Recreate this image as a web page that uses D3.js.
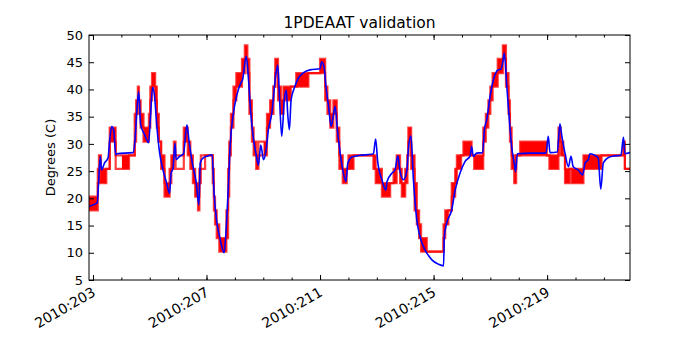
<!DOCTYPE html>
<html>
<head>
<meta charset="utf-8">
<script src="https://cdn.jsdelivr.net/npm/d3@7"></script>
<style>
body { margin: 0; background: #fff; }
svg { font-family: "DejaVu Sans", sans-serif; }
</style>
</head>
<body>
<svg id="chart"></svg>
<script>
// telemetry (red): step segments, start day, low/high level, solid block or not
const redT = [202.86, 203.17, 203.21, 203.28, 203.47, 203.59, 203.80, 204.02, 204.27, 204.47,
  204.52, 204.58, 204.62, 204.68, 204.78, 204.97, 205.02, 205.08, 205.19, 205.25,
  205.32, 205.40, 205.52, 205.70, 205.76, 205.85, 205.91, 206.20, 206.34, 206.43,
  206.52, 206.60, 206.70, 206.75, 206.80, 206.95, 207.22, 207.26, 207.30, 207.36,
  207.45, 207.70, 207.76, 207.80, 207.86, 207.95, 208.05, 208.25, 208.35, 208.44,
  208.51, 208.60, 208.66, 208.75, 208.83, 209.01, 209.13, 209.24, 209.36, 209.42,
  209.52, 209.62, 209.71, 209.97, 210.16, 210.59, 211.00, 211.18, 211.26, 211.36,
  211.47, 211.59, 211.68, 211.80, 211.94, 212.00, 212.18, 212.88, 212.96, 213.18,
  213.47, 213.59, 213.70, 213.82, 213.88, 214.00, 214.08, 214.11, 214.21, 214.33,
  214.41, 214.49, 214.56, 214.76, 215.35, 215.41, 215.52, 215.64, 215.76, 215.82,
  215.97, 216.05, 216.34, 216.43, 216.75, 216.84, 216.93, 217.00, 217.08, 217.26,
  217.44, 217.55, 217.64, 217.69, 217.75, 217.84, 217.91, 218.05, 218.99, 219.08,
  219.40, 219.48, 219.57, 219.63, 219.80, 219.86, 220.28, 220.92, 221.68, 221.74];
const redLo = [17.8, 22.8, 22.8, 22.8, 25.4, 30.4, 25.4, 25.4, 27.9, 30.4,
  35.5, 38.0, 35.5, 33.0, 30.4, 33.0, 38.0, 40.5, 38.0, 33.0,
  30.4, 25.4, 20.3, 22.8, 25.4, 27.9, 25.4, 30.4, 27.9, 25.4,
  22.8, 20.3, 17.8, 22.8, 25.4, 27.9, 22.8, 17.8, 15.2, 12.7,
  10.2, 12.7, 20.3, 27.9, 33.0, 38.0, 40.5, 43.0, 45.6, 43.0,
  35.5, 30.4, 27.9, 25.4, 27.9, 27.9, 33.0, 35.5, 40.5, 43.0,
  38.0, 35.5, 38.0, 40.5, 40.5, 43.0, 43.0, 38.0, 35.5, 33.0,
  35.5, 30.4, 25.4, 22.8, 25.4, 25.4, 27.9, 25.4, 22.8, 20.3,
  22.8, 22.8, 25.4, 22.8, 20.3, 22.8, 27.9, 30.4, 25.4, 17.8,
  15.2, 12.7, 10.2, 10.2, 12.7, 15.2, 17.8, 20.3, 22.8, 25.4,
  27.9, 27.9, 27.9, 25.4, 30.4, 33.0, 35.5, 38.0, 40.5, 43.0,
  45.6, 40.5, 35.5, 30.4, 25.4, 22.8, 27.9, 27.9, 27.9, 25.4,
  30.4, 27.9, 27.9, 22.8, 25.4, 22.8, 25.4, 27.9, 27.9, 25.4];
const redHi = [20.3, 25.4, 27.9, 25.4, 25.4, 33.0, 27.9, 27.9, 27.9, 35.5,
  38.0, 40.5, 38.0, 35.5, 33.0, 35.5, 40.5, 43.0, 40.5, 35.5,
  30.4, 27.9, 22.8, 25.4, 27.9, 30.4, 27.9, 33.0, 30.4, 27.9,
  25.4, 22.8, 20.3, 25.4, 27.9, 27.9, 25.4, 20.3, 17.8, 15.2,
  12.7, 17.8, 25.4, 30.4, 35.5, 40.5, 43.0, 45.6, 48.1, 45.6,
  38.0, 33.0, 30.4, 27.9, 30.4, 30.4, 35.5, 38.0, 40.5, 45.6,
  40.5, 38.0, 40.5, 40.5, 43.0, 43.0, 45.6, 40.5, 38.0, 35.5,
  38.0, 33.0, 27.9, 25.4, 25.4, 27.9, 27.9, 27.9, 25.4, 22.8,
  22.8, 25.4, 27.9, 25.4, 22.8, 25.4, 27.9, 33.0, 27.9, 22.8,
  17.8, 15.2, 12.7, 10.2, 15.2, 17.8, 17.8, 22.8, 25.4, 27.9,
  27.9, 30.4, 27.9, 27.9, 33.0, 35.5, 38.0, 40.5, 43.0, 45.6,
  48.1, 43.0, 38.0, 33.0, 27.9, 25.4, 27.9, 30.4, 27.9, 27.9,
  33.0, 30.4, 27.9, 25.4, 25.4, 25.4, 27.9, 27.9, 30.4, 25.4];
const redSolid = [1, 1, 1, 1, 0, 1, 0, 1, 0, 1,
  1, 1, 1, 1, 1, 1, 1, 1, 1, 1,
  0, 1, 1, 1, 1, 1, 0, 1, 1, 1,
  1, 1, 1, 1, 0, 0, 1, 1, 1, 1,
  1, 1, 1, 1, 1, 1, 1, 1, 1, 1,
  1, 1, 1, 1, 0, 1, 1, 1, 0, 1,
  1, 1, 1, 0, 1, 0, 1, 1, 1, 1,
  1, 1, 1, 1, 0, 1, 0, 1, 1, 1,
  0, 1, 1, 1, 1, 1, 0, 1, 1, 1,
  1, 1, 1, 0, 1, 1, 0, 1, 1, 1,
  0, 1, 0, 1, 1, 1, 1, 1, 1, 1,
  1, 1, 1, 1, 1, 1, 0, 1, 0, 1,
  1, 1, 0, 1, 0, 1, 1, 0, 1, 0];
const redEnd = 221.92;

// model (blue)
const blueT = [202.86, 203.00, 203.15, 203.19, 203.26, 203.30, 203.41, 203.53, 203.59, 203.66,
  203.73, 203.80, 203.84, 204.41, 204.48, 204.55, 204.61, 204.68, 204.82, 204.96,
  205.02, 205.10, 205.17, 205.25, 205.35, 205.44, 205.58, 205.70, 205.75, 205.82,
  205.89, 205.93, 206.05, 206.19, 206.31, 206.38, 206.50, 206.64, 206.73, 206.78,
  206.87, 207.05, 207.20, 207.26, 207.34, 207.46, 207.62, 207.69, 207.78, 207.83,
  207.93, 208.07, 208.21, 208.27, 208.40, 208.48, 208.56, 208.66, 208.75, 208.83,
  208.91, 209.01, 209.10, 209.18, 209.30, 209.42, 209.51, 209.57, 209.65, 209.74,
  209.81, 209.86, 209.92, 209.98, 210.09, 210.24, 210.42, 210.65, 211.00, 211.06,
  211.14, 211.21, 211.30, 211.39, 211.47, 211.53, 211.61, 211.71, 211.80, 211.91,
  211.98, 212.12, 212.41, 212.82, 212.88, 212.96, 213.03, 213.18, 213.32, 213.36,
  213.53, 213.64, 213.74, 213.82, 213.94, 214.06, 214.11, 214.20, 214.29, 214.41,
  214.52, 214.70, 214.82, 214.94, 215.17, 215.35, 215.38, 215.46, 215.64, 215.76,
  215.93, 216.11, 216.29, 216.34, 216.40, 216.52, 216.73, 216.79, 216.87, 216.99,
  217.05, 217.17, 217.28, 217.37, 217.44, 217.49, 217.58, 217.67, 217.75, 217.84,
  217.89, 217.95, 218.40, 218.96, 219.04, 219.10, 219.36, 219.45, 219.52, 219.63,
  219.75, 219.84, 219.92, 220.10, 220.25, 220.34, 220.45, 220.51, 220.69, 220.80,
  220.89, 220.98, 221.16, 221.39, 221.60, 221.69, 221.74, 221.92];
const blueV = [18.5, 18.8, 19.2, 22.2, 27.7, 25.2, 26.5, 27.4, 30.7, 33.2,
  32.6, 28.0, 28.2, 28.4, 30.7, 36.3, 39.6, 33.5, 31.7, 30.2,
  34.4, 40.4, 38.7, 33.2, 28.3, 25.8, 23.1, 20.9, 24.6, 25.5,
  30.1, 27.1, 27.7, 28.2, 33.5, 30.7, 26.5, 22.8, 18.8, 26.5,
  27.4, 27.8, 28.0, 21.5, 16.6, 13.0, 10.0, 14.2, 23.4, 29.5,
  35.0, 39.0, 41.2, 41.8, 46.1, 41.8, 35.6, 30.7, 28.0, 26.1,
  29.8, 27.1, 28.9, 32.6, 35.6, 41.8, 44.5, 38.7, 31.4, 38.1,
  39.9, 35.6, 32.6, 38.1, 40.2, 42.1, 43.1, 43.6, 43.8, 45.1,
  44.2, 40.5, 36.9, 33.2, 35.3, 36.9, 32.6, 28.3, 25.2, 23.1,
  26.5, 27.6, 27.9, 28.1, 28.2, 30.9, 26.8, 23.4, 21.5, 23.1,
  24.6, 25.2, 27.8, 24.9, 23.4, 25.2, 28.9, 31.5, 23.4, 16.0,
  13.0, 10.5, 9.5, 8.7, 7.9, 7.6, 13.0, 15.4, 17.9, 21.5,
  24.6, 26.8, 27.8, 29.5, 27.7, 28.3, 28.4, 32.6, 34.4, 38.7,
  40.5, 42.8, 43.6, 43.7, 45.1, 46.7, 40.5, 34.4, 29.5, 26.5,
  24.9, 28.2, 28.3, 28.3, 31.4, 28.4, 28.5, 33.7, 31.4, 28.3,
  25.8, 27.7, 25.8, 25.2, 24.3, 26.5, 27.1, 28.2, 27.9, 27.4,
  21.7, 26.5, 27.5, 27.8, 27.9, 31.2, 28.2, 28.4];

const xTicks = [203, 207, 211, 215, 219];
const xMinor = d3.range(203, 222);
const yTicks = [5, 10, 15, 20, 25, 30, 35, 40, 45, 50];

const width = 700;
const height = 350;
const margin = { top: 35, right: 70, bottom: 70, left: 89 };
const w = width - margin.left - margin.right;
const h = height - margin.top - margin.bottom;

const svg = d3.select("#chart")
  .attr("width", width)
  .attr("height", height);

const g = svg.append("g")
  .attr("transform", "translate(" + margin.left + "," + margin.top + ")");

const xScale = d3.scaleLinear().domain([202.86, redEnd]).range([0, w]);
const yScale = d3.scaleLinear().domain([5, 50]).range([h, 0]);

g.append("clipPath").attr("id", "clip")
  .append("rect").attr("width", w).attr("height", h);

const plot = g.append("g").attr("clip-path", "url(#clip)");

// red telemetry
const red = redT.map((t, i) => ({ t: t, t1: i < redT.length - 1 ? redT[i + 1] : redEnd, lo: redLo[i], hi: redHi[i], solid: redSolid[i] }));
const redPts = red.concat([{ t: redEnd, lo: redLo[redLo.length - 1], hi: redHi[redHi.length - 1] }]);

plot.append("g")
  .selectAll("rect")
  .data(red.filter(d => d.solid))
  .enter()
  .append("rect")
  .attr("x", d => xScale(d.t))
  .attr("width", d => xScale(d.t1) - xScale(d.t))
  .attr("y", d => yScale(d.hi))
  .attr("height", d => yScale(d.lo) - yScale(d.hi))
  .attr("fill", "#ff0000");

["lo", "hi"].forEach(k => {
  plot.append("path")
    .datum(redPts)
    .attr("fill", "none")
    .attr("stroke", "#ff0000")
    .attr("stroke-opacity", 0.75)
    .attr("stroke-width", 2.2)
    .attr("d", d3.line().curve(d3.curveStepAfter).x(d => xScale(d.t)).y(d => yScale(d[k])));
});

// blue model
plot.append("path")
  .datum(blueT.map((t, i) => [t, blueV[i]]))
  .attr("fill", "none")
  .attr("stroke", "#0000ff")
  .attr("stroke-width", 1.6)
  .attr("d", d3.line().curve(d3.curveMonotoneX).x(d => xScale(d[0])).y(d => yScale(d[1])));

// axes, ticks inside like matplotlib
const bottom = g.append("g")
  .attr("transform", "translate(0," + h + ")")
  .call(d3.axisBottom(xScale).tickValues(xTicks).tickSize(-5).tickPadding(15).tickFormat(d => "2010:" + d));

g.append("g")
  .attr("transform", "translate(0," + h + ")")
  .call(d3.axisBottom(xScale).tickValues(xMinor).tickSize(-2.5).tickFormat(""));
g.append("g")
  .call(d3.axisTop(xScale).tickValues(xTicks).tickSize(-5).tickFormat(""));
g.append("g")
  .call(d3.axisTop(xScale).tickValues(xMinor).tickSize(-2.5).tickFormat(""));
g.append("g")
  .call(d3.axisLeft(yScale).tickValues(yTicks).tickSize(-5).tickPadding(6));
g.append("g")
  .attr("transform", "translate(" + w + ",0)")
  .call(d3.axisRight(yScale).tickValues(yTicks).tickSize(-5).tickFormat(""));

g.selectAll(".domain").remove();
g.selectAll(".tick line").attr("stroke", "#000");
g.selectAll(".tick text").attr("font-size", 13).attr("fill", "#000").attr("font-family", "DejaVu Sans");
bottom.selectAll("text")
  .attr("font-size", 14)
  .attr("text-anchor", "end")
  .attr("dy", 0)
  .attr("transform", "translate(3,0) rotate(-30, 0, 15)");

g.append("rect")
  .attr("width", w)
  .attr("height", h)
  .attr("fill", "none")
  .attr("stroke", "#000")
  .attr("stroke-width", 1);

svg.append("text")
  .attr("x", margin.left + w / 2)
  .attr("y", 28)
  .attr("text-anchor", "middle")
  .attr("font-size", 15.5)
  .text("1PDEAAT validation");

svg.append("text")
  .attr("transform", "translate(55," + (margin.top + h / 2) + ") rotate(-90)")
  .attr("text-anchor", "middle")
  .attr("font-size", 13)
  .text("Degrees (C)");
</script>
</body>
</html>
